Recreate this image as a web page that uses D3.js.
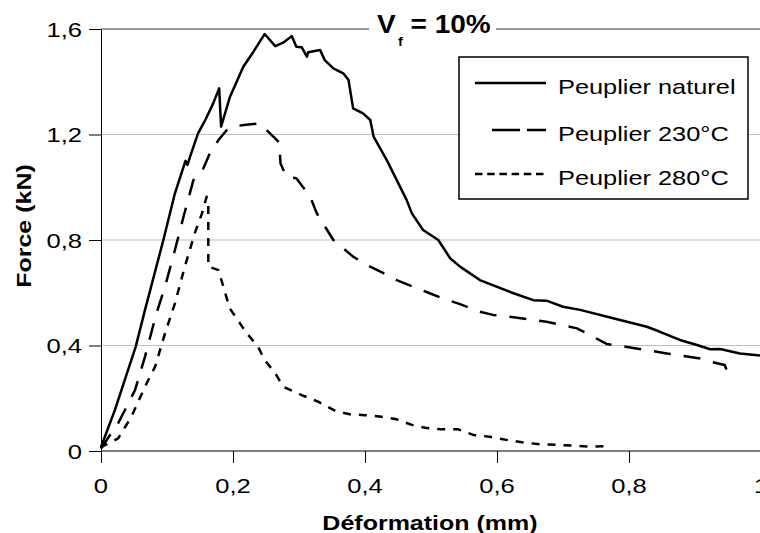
<!DOCTYPE html>
<html>
<head>
<meta charset="utf-8">
<script src="https://cdn.jsdelivr.net/npm/d3@7"></script>
<style>
html,body{margin:0;padding:0;background:#fff;}
svg{display:block;}
text{font-family:"Liberation Sans",Arial,sans-serif;fill:#000;}
</style>
</head>
<body>
<svg id="chart" width="760" height="533"></svg>
<script>
// ---- Data (Déformation in mm, Force in kN) ----
const seriesNames = ["Peuplier naturel", "Peuplier 230°C", "Peuplier 280°C"];

const naturelX = [0, 0.021, 0.0525, 0.0667, 0.0945, 0.112, 0.128, 0.131, 0.135, 0.147, 0.158, 0.17, 0.179, 0.182, 0.195, 0.2156, 0.231, 0.248, 0.264, 0.276, 0.289, 0.296, 0.304, 0.312, 0.314, 0.332, 0.339, 0.352, 0.367, 0.375, 0.382, 0.397, 0.408, 0.413, 0.433, 0.463, 0.471, 0.488, 0.511, 0.529, 0.544, 0.574, 0.625, 0.655, 0.675, 0.70, 0.726, 0.776, 0.827, 0.847, 0.877, 0.903, 0.923, 0.938, 0.968, 1.0];
const naturelY = [0.015, 0.155, 0.395, 0.535, 0.80, 0.977, 1.10, 1.085, 1.116, 1.204, 1.255, 1.318, 1.375, 1.23, 1.34, 1.457, 1.514, 1.581, 1.535, 1.548, 1.573, 1.533, 1.531, 1.495, 1.512, 1.52, 1.482, 1.451, 1.432, 1.407, 1.299, 1.28, 1.255, 1.192, 1.103, 0.952, 0.901, 0.838, 0.80, 0.731, 0.699, 0.648, 0.598, 0.572, 0.570, 0.547, 0.535, 0.503, 0.471, 0.452, 0.421, 0.402, 0.386, 0.387, 0.37, 0.362];

const p230X = [0, 0.0035, 0.026, 0.0515, 0.0667, 0.084, 0.097, 0.112, 0.125, 0.14, 0.153, 0.165, 0.178, 0.19, 0.2, 0.216, 0.241, 0.256, 0.27, 0.272, 0.281, 0.296, 0.317, 0.327, 0.352, 0.382, 0.403, 0.428, 0.448, 0.473, 0.498, 0.524, 0.544, 0.574, 0.594, 0.625, 0.675, 0.721, 0.736, 0.766, 0.811, 0.857, 0.908, 0.923, 0.945, 0.953];
const p230Y = [0.01, 0.023, 0.105, 0.231, 0.358, 0.522, 0.623, 0.762, 0.888, 1.027, 1.06, 1.129, 1.179, 1.215, 1.23, 1.236, 1.242, 1.204, 1.17, 1.09, 1.04, 1.034, 0.964, 0.901, 0.80, 0.737, 0.705, 0.674, 0.648, 0.623, 0.598, 0.573, 0.557, 0.528, 0.516, 0.507, 0.49, 0.465, 0.446, 0.406, 0.389, 0.37, 0.351, 0.339, 0.326, 0.276];

const p280X = [0, 0.001, 0.026, 0.046, 0.0667, 0.082, 0.097, 0.112, 0.127, 0.142, 0.153, 0.160, 0.1626, 0.1626, 0.178, 0.195, 0.221, 0.238, 0.248, 0.264, 0.276, 0.304, 0.329, 0.355, 0.377, 0.40, 0.425, 0.448, 0.471, 0.491, 0.516, 0.541, 0.564, 0.589, 0.617, 0.64, 0.668, 0.693, 0.716, 0.741, 0.766, 0.773];
const p280Y = [0.01, 0.016, 0.048, 0.13, 0.244, 0.32, 0.446, 0.56, 0.699, 0.825, 0.901, 0.964, 0.94, 0.699, 0.686, 0.541, 0.446, 0.395, 0.345, 0.295, 0.244, 0.212, 0.187, 0.152, 0.139, 0.136, 0.130, 0.12, 0.099, 0.088, 0.082, 0.082, 0.061, 0.054, 0.041, 0.032, 0.025, 0.023, 0.02, 0.016, 0.019, 0.019];

const xTicks = [0, 0.2, 0.4, 0.6, 0.8, 1];
const xTickLabels = ["0", "0,2", "0,4", "0,6", "0,8", "1"];
const yTicks = [0, 0.4, 0.8, 1.2, 1.6];
const yTickLabels = ["0", "0,4", "0,8", "1,2", "1,6"];

const titleMain = "V";
const titleSub = "f";
const titleRest = " = 10%";
const xTitle = "Déformation (mm)";
const yTitle = "Force (kN)";

// ---- Drawing ----
const svg = d3.select("#chart");
const x = d3.scaleLinear().domain([0, 1]).range([101, 761]);
const y = d3.scaleLinear().domain([0, 1.6]).range([451, 29]);
const SX = 1.22; // horizontal glyph stretch of the original rendering

// gridlines
svg.append("g").selectAll("line").data(yTicks.filter(v => v > 0 && v < 1.6)).join("line")
  .attr("x1", x(0)).attr("x2", 760).attr("y1", d => y(d)).attr("y2", d => y(d))
  .attr("stroke", "#c0c0c0").attr("stroke-width", 1.2);
// top border line at 1.6
svg.append("line").attr("x1", x(0)).attr("x2", 760).attr("y1", y(1.6)).attr("y2", y(1.6))
  .attr("stroke", "#333").attr("stroke-width", 1.2);

// axes (ticks only; labels drawn separately)
const gx = svg.append("g").attr("transform", `translate(0,${y(0)})`)
  .call(d3.axisBottom(x).tickValues(xTicks).tickFormat("").tickSize(12).tickSizeOuter(0));
gx.select(".domain").attr("stroke", "#555").attr("stroke-width", 1.6).attr("d", `M${x(0)},0H760`);
gx.selectAll(".tick line").attr("stroke", "#000").attr("stroke-width", 1);

const gy = svg.append("g").attr("transform", `translate(${x(0)},0)`)
  .call(d3.axisLeft(y).tickValues(yTicks).tickFormat("").tickSize(12).tickSizeOuter(0));
gy.select(".domain").attr("stroke", "#000").attr("stroke-width", 1);
gy.selectAll(".tick line").attr("stroke", "#000").attr("stroke-width", 1);

// tick labels
svg.append("g").selectAll("text").data(xTicks).join("text")
  .attr("transform", d => `translate(${x(d)},${493}) scale(${SX},1)`)
  .attr("text-anchor", "middle").attr("font-size", 21)
  .text((d, i) => xTickLabels[i]);
svg.append("g").selectAll("text").data(yTicks).join("text")
  .attr("transform", d => `translate(82,${y(d) + 7.5}) scale(${SX},1)`)
  .attr("text-anchor", "end").attr("font-size", 21)
  .text((d, i) => yTickLabels[i]);

// axis titles
svg.append("text").attr("transform", `translate(430,530) scale(${SX},1)`)
  .attr("text-anchor", "middle").attr("font-size", 20.5).attr("font-weight", "bold").text(xTitle);
svg.append("text").attr("transform", `translate(31,226) rotate(-90) scale(${SX},1)`)
  .attr("text-anchor", "middle").attr("font-size", 20.5).attr("font-weight", "bold").text(yTitle);

// curves
const series = [
  {name: seriesNames[0], xs: naturelX, ys: naturelY, dash: null, legDash: null, legX1: 475},
  {name: seriesNames[1], xs: p230X, ys: p230Y, dash: "17,13", legDash: "28,7", legX1: 492},
  {name: seriesNames[2], xs: p280X, ys: p280Y, dash: "8,8", legDash: "7.5,4.7", legX1: 475}
];
const line = d3.line().x(d => x(d[0])).y(d => y(d[1]));
series.forEach(s => {
  const pts = s.xs.map((v, i) => [v, s.ys[i]]);
  svg.append("path").datum(pts).attr("d", line)
    .attr("fill", "none").attr("stroke", "#000").attr("stroke-width", 2.5)
    .attr("stroke-linejoin", "round")
    .attr("stroke-dasharray", s.dash);
});

// legend
const lg = svg.append("g");
lg.append("rect").attr("x", 459).attr("y", 57).attr("width", 289).attr("height", 142)
  .attr("fill", "#fff").attr("stroke", "#000").attr("stroke-width", 1.5);
const legY = [83, 130, 174];
series.forEach((s, i) => {
  lg.append("line").attr("x1", s.legX1).attr("x2", 546).attr("y1", legY[i]).attr("y2", legY[i])
    .attr("stroke", "#000").attr("stroke-width", 2.5).attr("stroke-dasharray", s.legDash);
  lg.append("text").attr("transform", `translate(558,${legY[i] + 10.5}) scale(${SX * 0.99},1)`)
    .attr("font-size", 21).text(s.name);
});

// title with white background
svg.append("rect").attr("x", 369).attr("y", 10).attr("width", 127).attr("height", 40).attr("fill", "#fff");
const t = svg.append("text").attr("transform", "translate(377,33) scale(1.12,1)")
  .attr("font-size", 25).attr("font-weight", "bold");
t.append("tspan").text(titleMain);
t.append("tspan").attr("font-size", 13).attr("dx", 2).attr("dy", 13).text(titleSub);
t.append("tspan").attr("dy", -13).text(titleRest);
</script>
</body>
</html>
